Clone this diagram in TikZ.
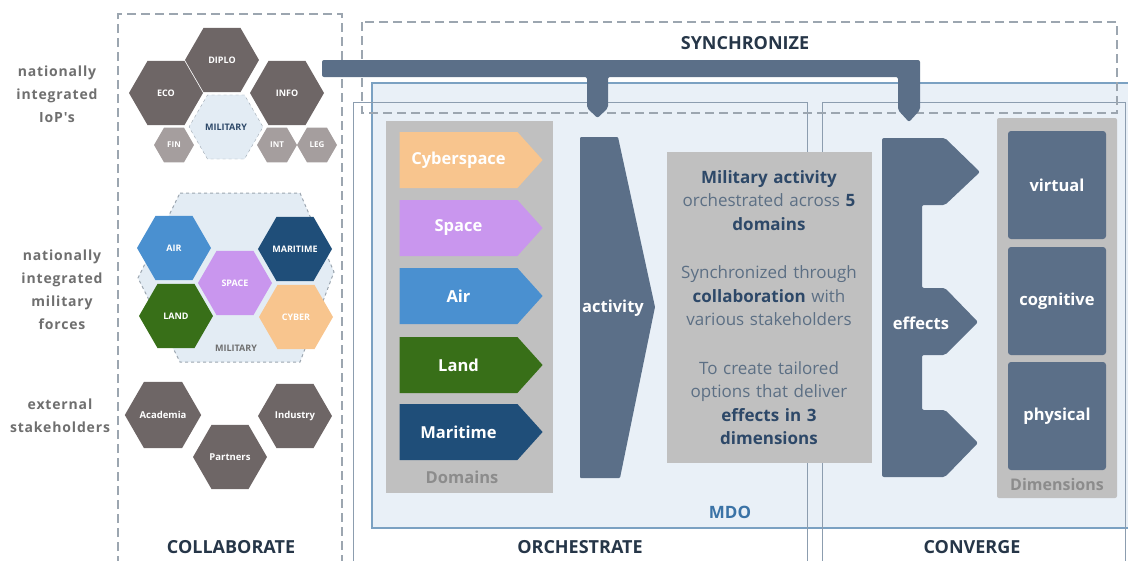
\documentclass[tikz,border=0pt]{standalone}
\usepackage{fontspec}
\setmainfont{Open Sans}
\usetikzlibrary{shapes.geometric,shapes.symbols}

\newcommand{\setfs}[2]{\fontsize{#1}{#2}\selectfont}
\newcommand{\boldtxt}[1]{\textcolor{txtdark}{\bfseries #1}}
\newfontfamily\spacedfont[LetterSpace=6]{Open Sans}

\definecolor{hexgray}{HTML}{6E6666}
\definecolor{hexlight}{HTML}{A59E9E}
\definecolor{milfill}{HTML}{E3ECF4}
\definecolor{aircol}{HTML}{4A90D0}
\definecolor{maricol}{HTML}{1F4E79}
\definecolor{spacecol}{HTML}{C996EE}
\definecolor{landcol}{HTML}{386F18}
\definecolor{cybercol}{HTML}{F8C58E}
\definecolor{labelgray}{HTML}{6F6F6F}
\definecolor{titlenavy}{HTML}{263648}
\definecolor{slate}{HTML}{5B6F88}
\definecolor{boxgray}{HTML}{C0C0C0}
\definecolor{mdofill}{HTML}{E9F0F7}
\definecolor{mdoline}{HTML}{7BA1C2}
\definecolor{framegray}{HTML}{8C9DAF}
\definecolor{dashgray}{HTML}{9CA6B0}
\definecolor{txtmid}{HTML}{5C6F84}
\definecolor{txtdark}{HTML}{2D4868}
\definecolor{mdoblue}{HTML}{3B73A6}
\definecolor{domgray}{HTML}{8C8C8C}

\tikzset{
  hexa/.style={regular polygon, regular polygon sides=6, minimum size=74pt,
    inner sep=0pt, fill=hexgray, text=white, font=\setfs{9}{10}\bfseries},
  smallhexa/.style={hexa, minimum size=40pt, fill=hexlight, font=\setfs{8}{9}\bfseries},
  sidelabel/.style={text=labelgray, align=center, font=\spacedfont\setfs{14}{23}\bfseries},
  sectitle/.style={text=titlenavy, font=\setfs{18}{20}\bfseries},
  domchevron/.style={signal, signal to=east, signal pointer angle=96,
    minimum width=143pt, minimum height=56pt, inner sep=0pt, text=white,
    font=\setfs{16.5}{18}\bfseries},
  dimtile/.style={fill=slate, rounded corners=3pt, minimum width=98pt,
    minimum height=108pt, text=white, font=\setfs{16.5}{18}\bfseries},
  framedash/.style={draw=dashgray, line width=1.2pt, dash pattern=on 9pt off 5pt},
}

\begin{document}
\begin{tikzpicture}[x=1pt,y=-1pt]
    \useasboundingbox (0,0) rectangle (1128,560);

    % MDO Layer
    \fill[mdofill] (372,83) rectangle (1128,528);
    \draw[mdoline, line width=1.2pt] (1128,83) -- (372,83) -- (372,528) -- (1128,528);
    \node[text=mdoblue, font=\setfs{17}{18}\bfseries] (mdo) at (730,512) {MDO};

    % Orchestrate and Converge frames
    \draw[framegray, line width=1pt] (353,565) -- (353,102) -- (807,102) -- (807,565);
    \draw[framegray, line width=1pt] (822,565) -- (822,102) -- (1125,102) -- (1125,565);

    % Synchronize and Collaborate frames
    \draw[framedash] (362,22) rectangle (1117,113);
    \draw[framedash] (118,565) -- (118,14) -- (342,14) -- (342,565);

    % Side labels
    \node[sidelabel] (iop) at (57,94) {nationally\\integrated\\IoP's};
    \node[sidelabel] (forces) at (62,290) {nationally\\integrated\\military\\forces};
    \node[sidelabel] (external) at (60,416) {external\\stakeholders};

    % Instruments of power
    \node[hexa, fill=milfill, draw=dashgray, dashed, text=txtdark] (mil) at (226,127) {MILITARY};
    \node[hexa] (diplo) at (222,60) {DIPLO};
    \node[hexa] (eco) at (166,93) {ECO};
    \node[hexa] (info) at (287,93) {INFO};
    \node[smallhexa] (fin) at (174,145) {FIN};
    \node[smallhexa] (int) at (277,145) {INT};
    \node[smallhexa] (leg) at (317,145) {LEG};

    % Military forces
    \filldraw[fill=milfill, draw=dashgray, line width=1pt, dashed]
        (180,193) -- (300,193) -- (334,272) -- (300,362) -- (180,362) -- (138,278) -- cycle;
    \node[text=labelgray, font=\setfs{9}{10}\bfseries] (milforces) at (236,348) {MILITARY};
    \node[hexa, fill=aircol] (air) at (174,248) {AIR};
    \node[hexa, fill=maricol] (mari) at (295,249) {MARITIME};
    \node[hexa, fill=spacecol] (space) at (235,283) {SPACE};
    \node[hexa, fill=landcol] (land) at (176,316) {LAND};
    \node[hexa, fill=cybercol] (cyb) at (296,317) {CYBER};

    % External stakeholders
    \node[hexa, font=\setfs{9.5}{10}\bfseries] (academia) at (163,415) {Academia};
    \node[hexa, font=\setfs{9.5}{10}\bfseries] (industry) at (295,416) {Industry};
    \node[hexa, font=\setfs{9.5}{10}\bfseries] (partners) at (230,457) {Partners};

    % Synchronize bar
    \fill[slate, rounded corners=2pt] (322,60) -- (920,60) -- (920,110) -- (909,122) -- (898,110)
        -- (898,77) -- (608,77) -- (608,108) -- (597.5,118) -- (587,108) -- (587,77)
        -- (322,77) -- cycle;

    % Domains
    \fill[boxgray] (386,121) rectangle (553,493);
    \node[text=domgray, font=\setfs{16.5}{18}\bfseries] (domlabel) at (462,477) {Domains};
    \node[domchevron, fill=cybercol] (cyberspace) at (458.5,160) {Cyberspace};
    \node[domchevron, fill=spacecol] (spacedom) at (458.5,228) {Space};
    \node[domchevron, fill=aircol] (airdom) at (458.5,296) {Air};
    \node[domchevron, fill=landcol] (landdom) at (458.5,365) {Land};
    \node[domchevron, fill=maricol] (maridom) at (458.5,432) {Maritime};

    % Activity
    \fill[slate, rounded corners=1pt] (580,137) -- (618,137) -- (655,307) -- (620,478) -- (580,478) -- cycle;
    \node[text=white, font=\setfs{16.5}{18}\bfseries] (act) at (613,308) {activity};

    % Text box
    \node[fill=boxgray, minimum width=205pt, minimum height=311pt, text width=205pt,
        inner xsep=0pt, align=center, text=txtmid, font=\setfs{17}{23.5}] (txt) at (769,307.5)
        {\boldtxt{Military activity}\\ orchestrated across \boldtxt{5}\\ \boldtxt{domains}\\[25pt]
         Synchronized through\\ \boldtxt{collaboration} with\\ various stakeholders\\[25pt]
         To create tailored\\ options that deliver\\ \boldtxt{effects in 3}\\ \boldtxt{dimensions}};

    % Effects
    \fill[slate, rounded corners=2pt] (882,138) -- (945,138) -- (980,172) -- (945,205) -- (922,205)
        -- (922,288) -- (945,288) -- (978,322) -- (945,355) -- (922,355) -- (922,410)
        -- (945,410) -- (978,443) -- (945,477) -- (882,477) -- cycle;
    \node[text=white, font=\setfs{16.5}{18}\bfseries] (eff) at (921,323) {effects};

    % Dimensions
    \fill[boxgray, rounded corners=2pt] (997,118) rectangle (1117,498);
    \node[text=domgray, font=\setfs{16}{18}\bfseries] (dimlabel) at (1057,484) {Dimensions};
    \node[dimtile] (virtual) at (1057,185) {virtual};
    \node[dimtile] (cognitive) at (1057,301) {cognitive};
    \node[dimtile] (physical) at (1057,416) {physical};

    % Titles
    \node[sectitle] (sync) at (745,43) {SYNCHRONIZE};
    \node[sectitle] (collab) at (231,547) {COLLABORATE};
    \node[sectitle] (orch) at (580,547) {ORCHESTRATE};
    \node[sectitle] (conv) at (972,547) {CONVERGE};
\end{tikzpicture}
\end{document}
